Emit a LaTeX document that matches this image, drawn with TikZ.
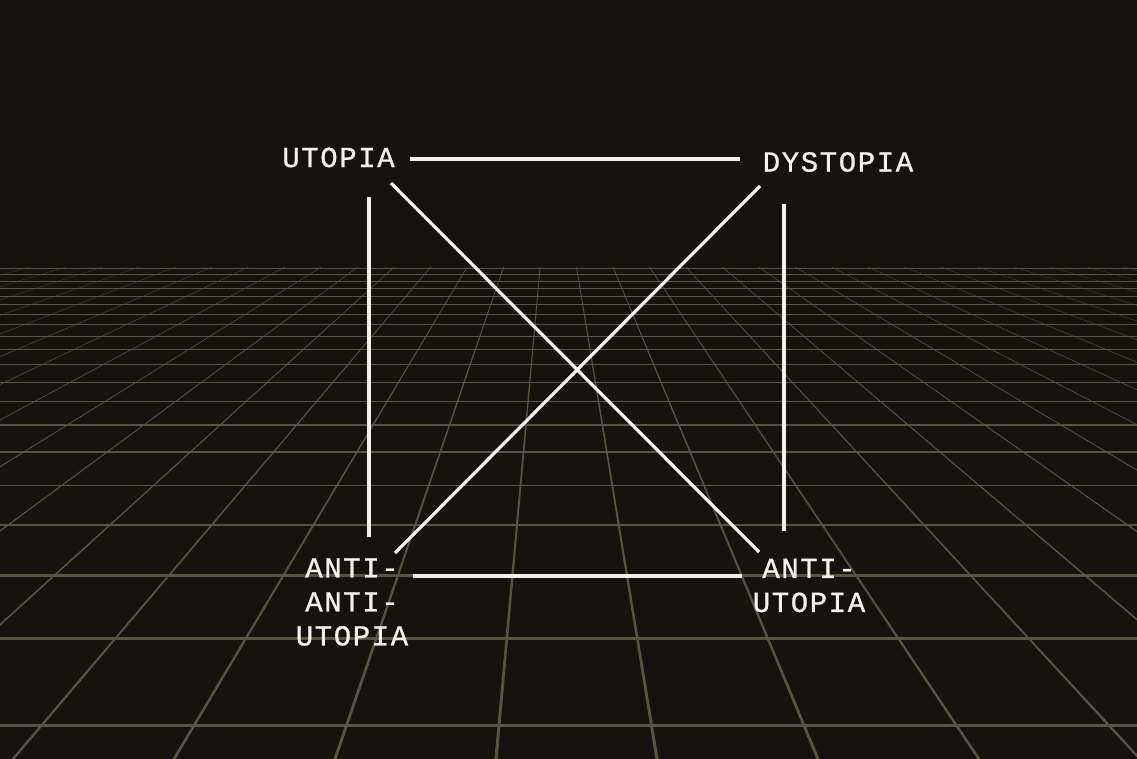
\documentclass[tikz,border=0pt]{standalone}
\usepackage{fontspec}
\newfontfamily\labelfont{Liberation Mono}[LetterSpace=5.5,FakeBold=0.9]
\definecolor{bg}{RGB}{21,18,15}
\definecolor{gridc}{RGB}{88,84,66}
\definecolor{ink}{RGB}{242,242,238}
\begin{document}
\begin{tikzpicture}[x=1pt,y=-1pt,
  lbl/.style={font=\labelfont\fontsize{29}{34}\selectfont, text=ink, inner sep=0pt, align=center},
  edge/.style={draw=ink, line width=4pt},
  diag/.style={draw=ink, line width=3.2pt}]
\fill[bg] (0,0) rectangle (1137,759);
\useasboundingbox (0,0) rectangle (1137,759);
% perspective floor grid
\begin{scope}
\clip (0,268) rectangle (1137,759);
\foreach \k in {-15,...,16}{
  \pgfmathsetmacro\b{496+161*\k}
  \fill[gridc] (553,123) -- (\b-1.6,759) -- (\b+1.6,759) -- cycle;
}
\foreach \k in {0,...,19}{
  \pgfmathsetmacro\yy{123+1/(0.0016667+\k*0.000268)}
  \pgfmathsetmacro\w{3*((\yy-123)/600)^1.2}
  \draw[gridc, line width=\w pt] (0,\yy) -- (1137,\yy);
}
\end{scope}
% labels
\node[lbl] (utopia) at (338.5,157.5) {UTOPIA};
\node[lbl] (dystopia) at (838,162) {DYSTOPIA};
\node[lbl] (antianti) at (352,602) {ANTI-\\ANTI-\\UTOPIA};
\node[lbl] (anti) at (809,585.5) {ANTI-\\UTOPIA};
% connector ends
\coordinate (ut-e) at (410,159);
\coordinate (dy-w) at (740,159);
\coordinate (ut-s) at (369,197);
\coordinate (aa-n) at (369,537);
\coordinate (dy-s) at (784,204);
\coordinate (an-n) at (784,531);
\coordinate (aa-e) at (413,576);
\coordinate (an-w) at (742,576);
\coordinate (ut-se) at (391,183);
\coordinate (an-nw) at (759,552);
\coordinate (dy-sw) at (760,186);
\coordinate (aa-ne) at (395,553);
% connectors
\draw[edge] (ut-e) -- (dy-w);
\draw[edge] (ut-s) -- (aa-n);
\draw[edge] (dy-s) -- (an-n);
\draw[edge] (aa-e) -- (an-w);
\draw[diag] (ut-se) -- (an-nw);
\draw[diag] (dy-sw) -- (aa-ne);
\end{tikzpicture}
\end{document}
